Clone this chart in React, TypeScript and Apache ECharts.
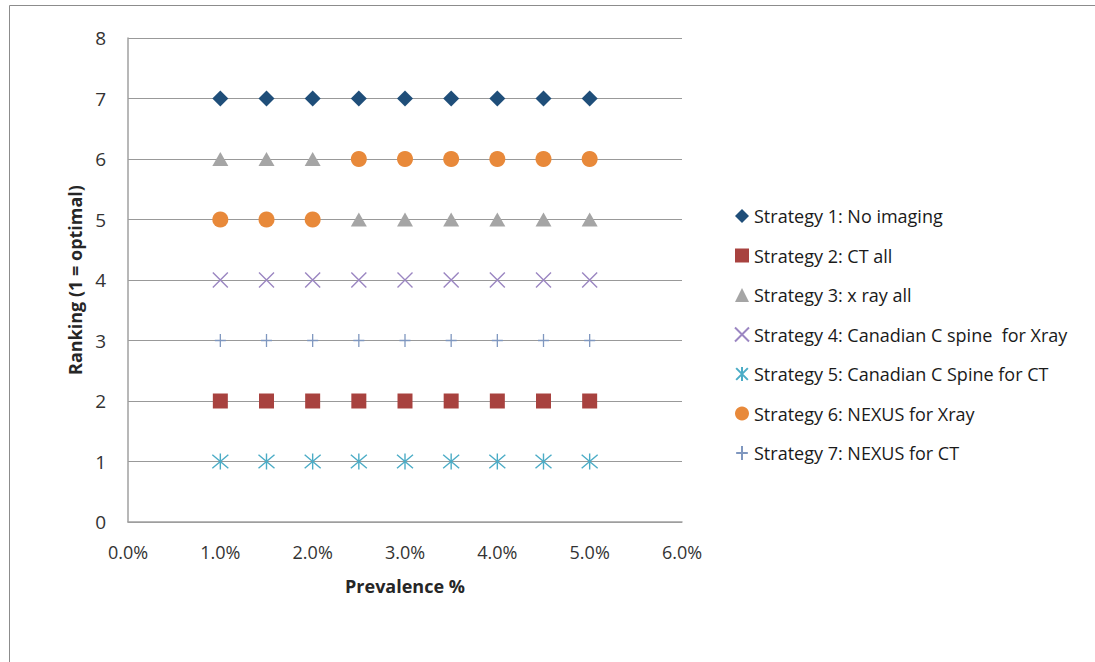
import React, { useEffect, useRef } from "react";
import * as echarts from "echarts";

const prevalence = [1.0, 1.5, 2.0, 2.5, 3.0, 3.5, 4.0, 4.5, 5.0];
const s1 = [7, 7, 7, 7, 7, 7, 7, 7, 7];
const s2 = [2, 2, 2, 2, 2, 2, 2, 2, 2];
const s3 = [6, 6, 6, 5, 5, 5, 5, 5, 5];
const s4 = [4, 4, 4, 4, 4, 4, 4, 4, 4];
const s5 = [1, 1, 1, 1, 1, 1, 1, 1, 1];
const s6 = [5, 5, 5, 6, 6, 6, 6, 6, 6];
const s7 = [3, 3, 3, 3, 3, 3, 3, 3, 3];
const seriesNames = [
  "Strategy 1: No imaging",
  "Strategy 2: CT all",
  "Strategy 3: x ray all",
  "Strategy 4: Canadian C spine  for Xray",
  "Strategy 5: Canadian C Spine for CT",
  "Strategy 6: NEXUS for Xray",
  "Strategy 7: NEXUS for CT",
];
const xTicks = [0, 1, 2, 3, 4, 5, 6];

const FONT = "'Open Sans', 'Noto Sans', sans-serif";

export default function App() {
  const ref = useRef<HTMLDivElement>(null);
  useEffect(() => {
    document.body.style.margin = "0";
    const chart = echarts.init(ref.current!, null, { renderer: "svg" });
    const pts = (ys: number[]) => prevalence.map((x, i) => [x, ys[i]]);
    const stroke = (c: string) => ({ color: "transparent", borderColor: c, borderWidth: 1.4, opacity: 1 });
    const fill = (c: string) => ({ color: c, opacity: 1 });
    const series: any[] = [
      { name: seriesNames[0], data: pts(s1), symbol: "diamond", symbolSize: 16, itemStyle: fill("#1F4E79") },
      { name: seriesNames[1], data: pts(s2), symbol: "rect", symbolSize: 15, itemStyle: fill("#A8423F") },
      { name: seriesNames[2], data: pts(s3), symbol: "triangle", symbolSize: [16, 14], itemStyle: fill("#A5A5A5") },
      { name: seriesNames[3], data: pts(s4), symbol: "path://M0,0L10,10M10,0L0,10", symbolSize: 15, itemStyle: stroke("#9B86C2") },
      { name: seriesNames[4], data: pts(s5), symbol: "path://M0,0L10,10M10,0L0,10M5,-1L5,11", symbolSize: 16, itemStyle: stroke("#4BACC6") },
      { name: seriesNames[5], data: pts(s6), symbol: "circle", symbolSize: 16, itemStyle: fill("#E8893A") },
      { name: seriesNames[6], data: pts(s7), symbol: "path://M0,6L10,6M5,0L5,12", symbolSize: [11, 13], itemStyle: stroke("#7F97BF") },
    ].map((s) => ({ ...s, type: "scatter", z: 3 }));

    chart.setOption({
      animation: false,
      textStyle: { fontFamily: FONT },
      grid: { left: 128, top: 38, width: 554, height: 484 },
      xAxis: {
        type: "value",
        min: xTicks[0],
        max: xTicks[xTicks.length - 1],
        interval: 1,
        name: "Prevalence %",
        nameLocation: "middle",
        nameGap: 55,
        nameTextStyle: { fontFamily: FONT, fontWeight: "bold", fontSize: 18, color: "#262626" },
        axisLine: { show: true, lineStyle: { color: "#a0a0a0", width: 1.5 } },
        axisTick: { show: false },
        axisLabel: { formatter: (v: number) => v.toFixed(1) + "%", fontSize: 18, color: "#333", margin: 21, fontFamily: FONT },
        splitLine: { show: false },
      },
      yAxis: {
        type: "value",
        min: 0,
        max: 8,
        interval: 1,
        name: "Ranking (1 = optimal)",
        nameLocation: "middle",
        nameGap: 42,
        nameTextStyle: { fontFamily: FONT, fontWeight: "bold", fontSize: 18, color: "#262626" },
        axisLine: { show: true, lineStyle: { color: "#a0a0a0", width: 1.5 } },
        axisTick: { show: false },
        axisLabel: { fontSize: 19, color: "#333", margin: 22, fontFamily: FONT },
        splitLine: { show: true, lineStyle: { color: "#999", width: 1.2 } },
      },
      legend: {
        orient: "vertical",
        left: 729,
        top: 201,
        itemWidth: 14,
        itemHeight: 14,
        itemGap: 19.5,
        selectedMode: false,
        textStyle: { fontSize: 18, lineHeight: 20, color: "#1a1a1a", fontFamily: FONT },
        data: seriesNames,
      },
      graphic: [
        {
          type: "rect",
          shape: { x: 9.5, y: 5.5, width: 1200, height: 800 },
          style: { fill: "none", stroke: "#8c8c8c", lineWidth: 1 },
          z: -1,
        },
      ],
      series,
    });
    return () => chart.dispose();
  }, []);
  return <div ref={ref} style={{ width: 1095, height: 662 }} />;
}
